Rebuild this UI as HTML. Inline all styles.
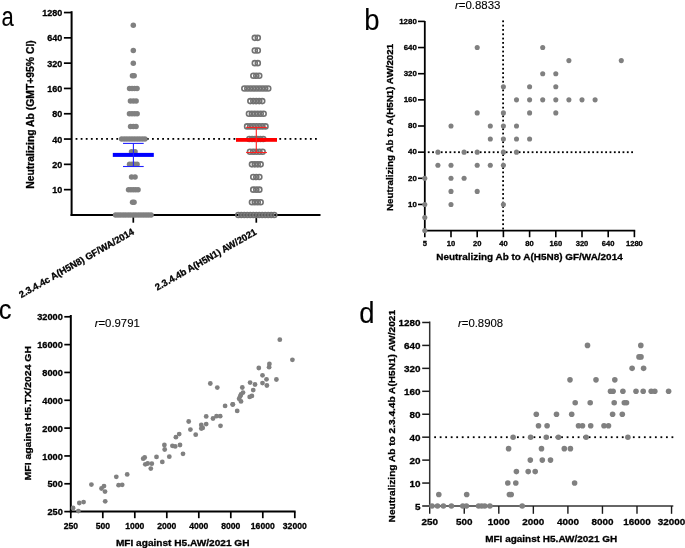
<!DOCTYPE html>
<html><head><meta charset="utf-8"><style>
html,body{margin:0;padding:0;background:#fff;}
svg{display:block;will-change:transform;}
text{font-family:"Liberation Sans", sans-serif;stroke:#000;stroke-width:0.3px;}
</style></head><body>
<svg width="685" height="548" viewBox="0 0 685 548" style="white-space:pre">
<text x="0.00" y="0.00" font-size="27.5" text-anchor="start" font-weight="normal" style="stroke-width:0.12px" transform="translate(1.6,26.0) scale(0.8,1)">a</text>
<line x1="71.60" y1="11.20" x2="71.60" y2="215.95" stroke="#000" stroke-width="2"/>
<line x1="70.60" y1="214.95" x2="320.50" y2="214.95" stroke="#000" stroke-width="2"/>
<line x1="63.90" y1="189.65" x2="71.60" y2="189.65" stroke="#000" stroke-width="1.7"/>
<text x="62.20" y="193.15" font-size="9.0" text-anchor="end" font-weight="bold">10</text>
<line x1="63.90" y1="164.35" x2="71.60" y2="164.35" stroke="#000" stroke-width="1.7"/>
<text x="62.20" y="167.85" font-size="9.0" text-anchor="end" font-weight="bold">20</text>
<line x1="63.90" y1="139.05" x2="71.60" y2="139.05" stroke="#000" stroke-width="1.7"/>
<text x="62.20" y="142.55" font-size="9.0" text-anchor="end" font-weight="bold">40</text>
<line x1="63.90" y1="113.75" x2="71.60" y2="113.75" stroke="#000" stroke-width="1.7"/>
<text x="62.20" y="117.25" font-size="9.0" text-anchor="end" font-weight="bold">80</text>
<line x1="63.90" y1="88.45" x2="71.60" y2="88.45" stroke="#000" stroke-width="1.7"/>
<text x="62.20" y="91.95" font-size="9.0" text-anchor="end" font-weight="bold">160</text>
<line x1="63.90" y1="63.15" x2="71.60" y2="63.15" stroke="#000" stroke-width="1.7"/>
<text x="62.20" y="66.65" font-size="9.0" text-anchor="end" font-weight="bold">320</text>
<line x1="63.90" y1="37.85" x2="71.60" y2="37.85" stroke="#000" stroke-width="1.7"/>
<text x="62.20" y="41.35" font-size="9.0" text-anchor="end" font-weight="bold">640</text>
<line x1="63.90" y1="12.55" x2="71.60" y2="12.55" stroke="#000" stroke-width="1.7"/>
<text x="62.20" y="16.05" font-size="9.0" text-anchor="end" font-weight="bold">1280</text>
<line x1="133.30" y1="214.95" x2="133.30" y2="222.70" stroke="#000" stroke-width="1.7"/>
<line x1="256.30" y1="214.95" x2="256.30" y2="222.70" stroke="#000" stroke-width="1.7"/>
<rect x="75.60" y="138.00" width="1.8" height="1.8" fill="#000"/>
<rect x="80.69" y="138.00" width="1.8" height="1.8" fill="#000"/>
<rect x="85.79" y="138.00" width="1.8" height="1.8" fill="#000"/>
<rect x="90.88" y="138.00" width="1.8" height="1.8" fill="#000"/>
<rect x="95.97" y="138.00" width="1.8" height="1.8" fill="#000"/>
<rect x="101.07" y="138.00" width="1.8" height="1.8" fill="#000"/>
<rect x="106.16" y="138.00" width="1.8" height="1.8" fill="#000"/>
<rect x="111.26" y="138.00" width="1.8" height="1.8" fill="#000"/>
<rect x="116.35" y="138.00" width="1.8" height="1.8" fill="#000"/>
<rect x="121.44" y="138.00" width="1.8" height="1.8" fill="#000"/>
<rect x="126.54" y="138.00" width="1.8" height="1.8" fill="#000"/>
<rect x="131.63" y="138.00" width="1.8" height="1.8" fill="#000"/>
<rect x="136.72" y="138.00" width="1.8" height="1.8" fill="#000"/>
<rect x="141.82" y="138.00" width="1.8" height="1.8" fill="#000"/>
<rect x="146.91" y="138.00" width="1.8" height="1.8" fill="#000"/>
<rect x="152.00" y="138.00" width="1.8" height="1.8" fill="#000"/>
<rect x="157.10" y="138.00" width="1.8" height="1.8" fill="#000"/>
<rect x="162.19" y="138.00" width="1.8" height="1.8" fill="#000"/>
<rect x="167.29" y="138.00" width="1.8" height="1.8" fill="#000"/>
<rect x="172.38" y="138.00" width="1.8" height="1.8" fill="#000"/>
<rect x="177.47" y="138.00" width="1.8" height="1.8" fill="#000"/>
<rect x="182.57" y="138.00" width="1.8" height="1.8" fill="#000"/>
<rect x="187.66" y="138.00" width="1.8" height="1.8" fill="#000"/>
<rect x="192.75" y="138.00" width="1.8" height="1.8" fill="#000"/>
<rect x="197.85" y="138.00" width="1.8" height="1.8" fill="#000"/>
<rect x="202.94" y="138.00" width="1.8" height="1.8" fill="#000"/>
<rect x="208.03" y="138.00" width="1.8" height="1.8" fill="#000"/>
<rect x="213.13" y="138.00" width="1.8" height="1.8" fill="#000"/>
<rect x="218.22" y="138.00" width="1.8" height="1.8" fill="#000"/>
<rect x="223.31" y="138.00" width="1.8" height="1.8" fill="#000"/>
<rect x="228.41" y="138.00" width="1.8" height="1.8" fill="#000"/>
<rect x="233.50" y="138.00" width="1.8" height="1.8" fill="#000"/>
<rect x="238.60" y="138.00" width="1.8" height="1.8" fill="#000"/>
<rect x="243.69" y="138.00" width="1.8" height="1.8" fill="#000"/>
<rect x="248.78" y="138.00" width="1.8" height="1.8" fill="#000"/>
<rect x="253.88" y="138.00" width="1.8" height="1.8" fill="#000"/>
<rect x="258.97" y="138.00" width="1.8" height="1.8" fill="#000"/>
<rect x="264.06" y="138.00" width="1.8" height="1.8" fill="#000"/>
<rect x="269.16" y="138.00" width="1.8" height="1.8" fill="#000"/>
<rect x="274.25" y="138.00" width="1.8" height="1.8" fill="#000"/>
<rect x="279.34" y="138.00" width="1.8" height="1.8" fill="#000"/>
<rect x="284.44" y="138.00" width="1.8" height="1.8" fill="#000"/>
<rect x="289.53" y="138.00" width="1.8" height="1.8" fill="#000"/>
<rect x="294.63" y="138.00" width="1.8" height="1.8" fill="#000"/>
<rect x="299.72" y="138.00" width="1.8" height="1.8" fill="#000"/>
<rect x="304.81" y="138.00" width="1.8" height="1.8" fill="#000"/>
<rect x="309.91" y="138.00" width="1.8" height="1.8" fill="#000"/>
<rect x="315.00" y="138.00" width="1.8" height="1.8" fill="#000"/>
<circle cx="133.30" cy="25.20" r="2.75" fill="#808080"/>
<circle cx="133.30" cy="50.50" r="2.75" fill="#808080"/>
<circle cx="133.30" cy="63.15" r="2.75" fill="#808080"/>
<circle cx="132.45" cy="75.80" r="2.75" fill="#808080"/>
<circle cx="134.15" cy="75.80" r="2.75" fill="#808080"/>
<circle cx="129.55" cy="88.45" r="2.75" fill="#808080"/>
<circle cx="132.05" cy="88.45" r="2.75" fill="#808080"/>
<circle cx="134.55" cy="88.45" r="2.75" fill="#808080"/>
<circle cx="137.05" cy="88.45" r="2.75" fill="#808080"/>
<circle cx="130.45" cy="101.10" r="2.75" fill="#808080"/>
<circle cx="133.30" cy="101.10" r="2.75" fill="#808080"/>
<circle cx="136.15" cy="101.10" r="2.75" fill="#808080"/>
<circle cx="129.45" cy="113.75" r="2.75" fill="#808080"/>
<circle cx="132.02" cy="113.75" r="2.75" fill="#808080"/>
<circle cx="134.58" cy="113.75" r="2.75" fill="#808080"/>
<circle cx="137.15" cy="113.75" r="2.75" fill="#808080"/>
<circle cx="130.55" cy="126.40" r="2.75" fill="#808080"/>
<circle cx="133.30" cy="126.40" r="2.75" fill="#808080"/>
<circle cx="136.05" cy="126.40" r="2.75" fill="#808080"/>
<circle cx="121.70" cy="139.05" r="2.75" fill="#808080"/>
<circle cx="124.28" cy="139.05" r="2.75" fill="#808080"/>
<circle cx="126.86" cy="139.05" r="2.75" fill="#808080"/>
<circle cx="129.43" cy="139.05" r="2.75" fill="#808080"/>
<circle cx="132.01" cy="139.05" r="2.75" fill="#808080"/>
<circle cx="134.59" cy="139.05" r="2.75" fill="#808080"/>
<circle cx="137.17" cy="139.05" r="2.75" fill="#808080"/>
<circle cx="139.74" cy="139.05" r="2.75" fill="#808080"/>
<circle cx="142.32" cy="139.05" r="2.75" fill="#808080"/>
<circle cx="144.90" cy="139.05" r="2.75" fill="#808080"/>
<circle cx="131.55" cy="151.70" r="2.75" fill="#808080"/>
<circle cx="135.05" cy="151.70" r="2.75" fill="#808080"/>
<circle cx="129.55" cy="164.35" r="2.75" fill="#808080"/>
<circle cx="132.05" cy="164.35" r="2.75" fill="#808080"/>
<circle cx="134.55" cy="164.35" r="2.75" fill="#808080"/>
<circle cx="137.05" cy="164.35" r="2.75" fill="#808080"/>
<circle cx="131.55" cy="177.00" r="2.75" fill="#808080"/>
<circle cx="135.05" cy="177.00" r="2.75" fill="#808080"/>
<circle cx="128.55" cy="189.65" r="2.75" fill="#808080"/>
<circle cx="130.93" cy="189.65" r="2.75" fill="#808080"/>
<circle cx="133.30" cy="189.65" r="2.75" fill="#808080"/>
<circle cx="135.68" cy="189.65" r="2.75" fill="#808080"/>
<circle cx="138.05" cy="189.65" r="2.75" fill="#808080"/>
<circle cx="132.55" cy="202.30" r="2.75" fill="#808080"/>
<circle cx="134.05" cy="202.30" r="2.75" fill="#808080"/>
<circle cx="115.55" cy="214.95" r="2.75" fill="#808080"/>
<circle cx="118.09" cy="214.95" r="2.75" fill="#808080"/>
<circle cx="120.62" cy="214.95" r="2.75" fill="#808080"/>
<circle cx="123.16" cy="214.95" r="2.75" fill="#808080"/>
<circle cx="125.69" cy="214.95" r="2.75" fill="#808080"/>
<circle cx="128.23" cy="214.95" r="2.75" fill="#808080"/>
<circle cx="130.76" cy="214.95" r="2.75" fill="#808080"/>
<circle cx="133.30" cy="214.95" r="2.75" fill="#808080"/>
<circle cx="135.84" cy="214.95" r="2.75" fill="#808080"/>
<circle cx="138.37" cy="214.95" r="2.75" fill="#808080"/>
<circle cx="140.91" cy="214.95" r="2.75" fill="#808080"/>
<circle cx="143.44" cy="214.95" r="2.75" fill="#808080"/>
<circle cx="145.98" cy="214.95" r="2.75" fill="#808080"/>
<circle cx="148.51" cy="214.95" r="2.75" fill="#808080"/>
<circle cx="151.05" cy="214.95" r="2.75" fill="#808080"/>
<circle cx="254.80" cy="37.85" r="2.50" fill="none" stroke="#727272" stroke-width="1.6"/>
<circle cx="257.80" cy="37.85" r="2.50" fill="none" stroke="#727272" stroke-width="1.6"/>
<circle cx="254.80" cy="50.50" r="2.50" fill="none" stroke="#727272" stroke-width="1.6"/>
<circle cx="257.80" cy="50.50" r="2.50" fill="none" stroke="#727272" stroke-width="1.6"/>
<circle cx="254.80" cy="63.15" r="2.50" fill="none" stroke="#727272" stroke-width="1.6"/>
<circle cx="257.80" cy="63.15" r="2.50" fill="none" stroke="#727272" stroke-width="1.6"/>
<circle cx="253.35" cy="75.80" r="2.50" fill="none" stroke="#727272" stroke-width="1.6"/>
<circle cx="256.30" cy="75.80" r="2.50" fill="none" stroke="#727272" stroke-width="1.6"/>
<circle cx="259.25" cy="75.80" r="2.50" fill="none" stroke="#727272" stroke-width="1.6"/>
<circle cx="244.35" cy="88.45" r="2.50" fill="none" stroke="#727272" stroke-width="1.6"/>
<circle cx="247.34" cy="88.45" r="2.50" fill="none" stroke="#727272" stroke-width="1.6"/>
<circle cx="250.33" cy="88.45" r="2.50" fill="none" stroke="#727272" stroke-width="1.6"/>
<circle cx="253.31" cy="88.45" r="2.50" fill="none" stroke="#727272" stroke-width="1.6"/>
<circle cx="256.30" cy="88.45" r="2.50" fill="none" stroke="#727272" stroke-width="1.6"/>
<circle cx="259.29" cy="88.45" r="2.50" fill="none" stroke="#727272" stroke-width="1.6"/>
<circle cx="262.28" cy="88.45" r="2.50" fill="none" stroke="#727272" stroke-width="1.6"/>
<circle cx="265.26" cy="88.45" r="2.50" fill="none" stroke="#727272" stroke-width="1.6"/>
<circle cx="268.25" cy="88.45" r="2.50" fill="none" stroke="#727272" stroke-width="1.6"/>
<circle cx="250.35" cy="101.10" r="2.50" fill="none" stroke="#727272" stroke-width="1.6"/>
<circle cx="253.33" cy="101.10" r="2.50" fill="none" stroke="#727272" stroke-width="1.6"/>
<circle cx="256.30" cy="101.10" r="2.50" fill="none" stroke="#727272" stroke-width="1.6"/>
<circle cx="259.28" cy="101.10" r="2.50" fill="none" stroke="#727272" stroke-width="1.6"/>
<circle cx="262.25" cy="101.10" r="2.50" fill="none" stroke="#727272" stroke-width="1.6"/>
<circle cx="248.95" cy="113.75" r="2.50" fill="none" stroke="#727272" stroke-width="1.6"/>
<circle cx="251.89" cy="113.75" r="2.50" fill="none" stroke="#727272" stroke-width="1.6"/>
<circle cx="254.83" cy="113.75" r="2.50" fill="none" stroke="#727272" stroke-width="1.6"/>
<circle cx="257.77" cy="113.75" r="2.50" fill="none" stroke="#727272" stroke-width="1.6"/>
<circle cx="260.71" cy="113.75" r="2.50" fill="none" stroke="#727272" stroke-width="1.6"/>
<circle cx="263.65" cy="113.75" r="2.50" fill="none" stroke="#727272" stroke-width="1.6"/>
<circle cx="247.10" cy="126.40" r="2.50" fill="none" stroke="#727272" stroke-width="1.6"/>
<circle cx="250.17" cy="126.40" r="2.50" fill="none" stroke="#727272" stroke-width="1.6"/>
<circle cx="253.23" cy="126.40" r="2.50" fill="none" stroke="#727272" stroke-width="1.6"/>
<circle cx="256.30" cy="126.40" r="2.50" fill="none" stroke="#727272" stroke-width="1.6"/>
<circle cx="259.37" cy="126.40" r="2.50" fill="none" stroke="#727272" stroke-width="1.6"/>
<circle cx="262.43" cy="126.40" r="2.50" fill="none" stroke="#727272" stroke-width="1.6"/>
<circle cx="265.50" cy="126.40" r="2.50" fill="none" stroke="#727272" stroke-width="1.6"/>
<circle cx="249.35" cy="139.05" r="2.50" fill="none" stroke="#727272" stroke-width="1.6"/>
<circle cx="252.13" cy="139.05" r="2.50" fill="none" stroke="#727272" stroke-width="1.6"/>
<circle cx="254.91" cy="139.05" r="2.50" fill="none" stroke="#727272" stroke-width="1.6"/>
<circle cx="257.69" cy="139.05" r="2.50" fill="none" stroke="#727272" stroke-width="1.6"/>
<circle cx="260.47" cy="139.05" r="2.50" fill="none" stroke="#727272" stroke-width="1.6"/>
<circle cx="263.25" cy="139.05" r="2.50" fill="none" stroke="#727272" stroke-width="1.6"/>
<circle cx="250.00" cy="151.70" r="2.50" fill="none" stroke="#727272" stroke-width="1.6"/>
<circle cx="253.15" cy="151.70" r="2.50" fill="none" stroke="#727272" stroke-width="1.6"/>
<circle cx="256.30" cy="151.70" r="2.50" fill="none" stroke="#727272" stroke-width="1.6"/>
<circle cx="259.45" cy="151.70" r="2.50" fill="none" stroke="#727272" stroke-width="1.6"/>
<circle cx="262.60" cy="151.70" r="2.50" fill="none" stroke="#727272" stroke-width="1.6"/>
<circle cx="251.95" cy="164.35" r="2.50" fill="none" stroke="#727272" stroke-width="1.6"/>
<circle cx="254.85" cy="164.35" r="2.50" fill="none" stroke="#727272" stroke-width="1.6"/>
<circle cx="257.75" cy="164.35" r="2.50" fill="none" stroke="#727272" stroke-width="1.6"/>
<circle cx="260.65" cy="164.35" r="2.50" fill="none" stroke="#727272" stroke-width="1.6"/>
<circle cx="253.25" cy="177.00" r="2.50" fill="none" stroke="#727272" stroke-width="1.6"/>
<circle cx="256.30" cy="177.00" r="2.50" fill="none" stroke="#727272" stroke-width="1.6"/>
<circle cx="259.35" cy="177.00" r="2.50" fill="none" stroke="#727272" stroke-width="1.6"/>
<circle cx="253.25" cy="189.65" r="2.50" fill="none" stroke="#727272" stroke-width="1.6"/>
<circle cx="256.30" cy="189.65" r="2.50" fill="none" stroke="#727272" stroke-width="1.6"/>
<circle cx="259.35" cy="189.65" r="2.50" fill="none" stroke="#727272" stroke-width="1.6"/>
<circle cx="251.95" cy="202.30" r="2.50" fill="none" stroke="#727272" stroke-width="1.6"/>
<circle cx="254.85" cy="202.30" r="2.50" fill="none" stroke="#727272" stroke-width="1.6"/>
<circle cx="257.75" cy="202.30" r="2.50" fill="none" stroke="#727272" stroke-width="1.6"/>
<circle cx="260.65" cy="202.30" r="2.50" fill="none" stroke="#727272" stroke-width="1.6"/>
<circle cx="238.35" cy="214.95" r="2.50" fill="none" stroke="#727272" stroke-width="1.6"/>
<circle cx="241.34" cy="214.95" r="2.50" fill="none" stroke="#727272" stroke-width="1.6"/>
<circle cx="244.33" cy="214.95" r="2.50" fill="none" stroke="#727272" stroke-width="1.6"/>
<circle cx="247.33" cy="214.95" r="2.50" fill="none" stroke="#727272" stroke-width="1.6"/>
<circle cx="250.32" cy="214.95" r="2.50" fill="none" stroke="#727272" stroke-width="1.6"/>
<circle cx="253.31" cy="214.95" r="2.50" fill="none" stroke="#727272" stroke-width="1.6"/>
<circle cx="256.30" cy="214.95" r="2.50" fill="none" stroke="#727272" stroke-width="1.6"/>
<circle cx="259.29" cy="214.95" r="2.50" fill="none" stroke="#727272" stroke-width="1.6"/>
<circle cx="262.28" cy="214.95" r="2.50" fill="none" stroke="#727272" stroke-width="1.6"/>
<circle cx="265.28" cy="214.95" r="2.50" fill="none" stroke="#727272" stroke-width="1.6"/>
<circle cx="268.27" cy="214.95" r="2.50" fill="none" stroke="#727272" stroke-width="1.6"/>
<circle cx="271.26" cy="214.95" r="2.50" fill="none" stroke="#727272" stroke-width="1.6"/>
<circle cx="274.25" cy="214.95" r="2.50" fill="none" stroke="#727272" stroke-width="1.6"/>
<rect x="112.8" y="152.9" width="41" height="4" fill="#0000ff"/>
<line x1="133.40" y1="143.40" x2="133.40" y2="166.50" stroke="#2020ff" stroke-width="1.1"/>
<line x1="123.00" y1="143.40" x2="143.70" y2="143.40" stroke="#2020ff" stroke-width="1.1"/>
<line x1="123.00" y1="166.50" x2="143.70" y2="166.50" stroke="#2020ff" stroke-width="1.1"/>
<rect x="236" y="138" width="41" height="3.8" fill="#ff0000"/>
<line x1="256.30" y1="127.40" x2="256.30" y2="152.50" stroke="#ff2020" stroke-width="1.1"/>
<line x1="246.10" y1="127.40" x2="266.90" y2="127.40" stroke="#ff2020" stroke-width="1.1"/>
<line x1="246.10" y1="152.50" x2="266.90" y2="152.50" stroke="#ff2020" stroke-width="1.1"/>
<text x="0.00" y="0.00" font-size="10" text-anchor="middle" font-weight="bold" textLength="148.5" lengthAdjust="spacingAndGlyphs" transform="translate(34.2,114.5) rotate(-90)">Neutralizing Ab (GMT+95% CI)</text>
<text x="0.00" y="0.00" font-size="9.45" text-anchor="end" font-weight="bold" transform="translate(134.9,233.6) rotate(-29.6)">2.3.4.4c A(H5N8) GF/WA/2014</text>
<text x="0.00" y="0.00" font-size="9.45" text-anchor="end" font-weight="bold" transform="translate(257.4,233.9) rotate(-29.6)">2.3.4.4b A(H5N1) AW/2021</text>
<text x="0.00" y="0.00" font-size="27.5" text-anchor="start" font-weight="normal" style="stroke-width:0.12px" transform="translate(364.2,29.9) scale(1,1.04)">b</text>
<text x="454.90" y="8.80" font-size="11.45" text-anchor="start" font-weight="normal" style="stroke-width:0.12px"><tspan font-style="italic">r</tspan>=0.8833</text>
<line x1="424.80" y1="21.00" x2="424.80" y2="231.40" stroke="#000" stroke-width="1.8"/>
<line x1="424.00" y1="230.60" x2="635.20" y2="230.60" stroke="#000" stroke-width="1.8"/>
<line x1="418.00" y1="204.45" x2="424.80" y2="204.45" stroke="#000" stroke-width="1.6"/>
<text x="416.80" y="206.65" font-size="7.9" text-anchor="end" font-weight="bold">10</text>
<line x1="418.00" y1="178.30" x2="424.80" y2="178.30" stroke="#000" stroke-width="1.6"/>
<text x="416.80" y="180.50" font-size="7.9" text-anchor="end" font-weight="bold">20</text>
<line x1="418.00" y1="152.15" x2="424.80" y2="152.15" stroke="#000" stroke-width="1.6"/>
<text x="416.80" y="154.35" font-size="7.9" text-anchor="end" font-weight="bold">40</text>
<line x1="418.00" y1="126.00" x2="424.80" y2="126.00" stroke="#000" stroke-width="1.6"/>
<text x="416.80" y="128.20" font-size="7.9" text-anchor="end" font-weight="bold">80</text>
<line x1="418.00" y1="99.85" x2="424.80" y2="99.85" stroke="#000" stroke-width="1.6"/>
<text x="416.80" y="102.05" font-size="7.9" text-anchor="end" font-weight="bold">160</text>
<line x1="418.00" y1="73.70" x2="424.80" y2="73.70" stroke="#000" stroke-width="1.6"/>
<text x="416.80" y="75.90" font-size="7.9" text-anchor="end" font-weight="bold">320</text>
<line x1="418.00" y1="47.55" x2="424.80" y2="47.55" stroke="#000" stroke-width="1.6"/>
<text x="416.80" y="49.75" font-size="7.9" text-anchor="end" font-weight="bold">640</text>
<line x1="418.00" y1="21.40" x2="424.80" y2="21.40" stroke="#000" stroke-width="1.6"/>
<text x="416.80" y="23.60" font-size="7.9" text-anchor="end" font-weight="bold">1280</text>
<line x1="424.80" y1="230.60" x2="424.80" y2="237.20" stroke="#000" stroke-width="1.6"/>
<text x="424.80" y="246.30" font-size="7.6" text-anchor="middle" font-weight="bold">5</text>
<line x1="451.00" y1="230.60" x2="451.00" y2="237.20" stroke="#000" stroke-width="1.6"/>
<text x="451.00" y="246.30" font-size="7.6" text-anchor="middle" font-weight="bold">10</text>
<line x1="477.20" y1="230.60" x2="477.20" y2="237.20" stroke="#000" stroke-width="1.6"/>
<text x="477.20" y="246.30" font-size="7.6" text-anchor="middle" font-weight="bold">20</text>
<line x1="503.40" y1="230.60" x2="503.40" y2="237.20" stroke="#000" stroke-width="1.6"/>
<text x="503.40" y="246.30" font-size="7.6" text-anchor="middle" font-weight="bold">40</text>
<line x1="529.60" y1="230.60" x2="529.60" y2="237.20" stroke="#000" stroke-width="1.6"/>
<text x="529.60" y="246.30" font-size="7.6" text-anchor="middle" font-weight="bold">80</text>
<line x1="555.80" y1="230.60" x2="555.80" y2="237.20" stroke="#000" stroke-width="1.6"/>
<text x="555.80" y="246.30" font-size="7.6" text-anchor="middle" font-weight="bold">160</text>
<line x1="582.00" y1="230.60" x2="582.00" y2="237.20" stroke="#000" stroke-width="1.6"/>
<text x="582.00" y="246.30" font-size="7.6" text-anchor="middle" font-weight="bold">320</text>
<line x1="608.20" y1="230.60" x2="608.20" y2="237.20" stroke="#000" stroke-width="1.6"/>
<text x="608.20" y="246.30" font-size="7.6" text-anchor="middle" font-weight="bold">640</text>
<line x1="634.40" y1="230.60" x2="634.40" y2="237.20" stroke="#000" stroke-width="1.6"/>
<text x="634.40" y="246.30" font-size="7.6" text-anchor="middle" font-weight="bold">1280</text>
<rect x="427.80" y="151.30" width="1.8" height="1.8" fill="#000"/>
<rect x="432.13" y="151.30" width="1.8" height="1.8" fill="#000"/>
<rect x="436.46" y="151.30" width="1.8" height="1.8" fill="#000"/>
<rect x="440.78" y="151.30" width="1.8" height="1.8" fill="#000"/>
<rect x="445.11" y="151.30" width="1.8" height="1.8" fill="#000"/>
<rect x="449.44" y="151.30" width="1.8" height="1.8" fill="#000"/>
<rect x="453.77" y="151.30" width="1.8" height="1.8" fill="#000"/>
<rect x="458.09" y="151.30" width="1.8" height="1.8" fill="#000"/>
<rect x="462.42" y="151.30" width="1.8" height="1.8" fill="#000"/>
<rect x="466.75" y="151.30" width="1.8" height="1.8" fill="#000"/>
<rect x="471.08" y="151.30" width="1.8" height="1.8" fill="#000"/>
<rect x="475.40" y="151.30" width="1.8" height="1.8" fill="#000"/>
<rect x="479.73" y="151.30" width="1.8" height="1.8" fill="#000"/>
<rect x="484.06" y="151.30" width="1.8" height="1.8" fill="#000"/>
<rect x="488.39" y="151.30" width="1.8" height="1.8" fill="#000"/>
<rect x="492.71" y="151.30" width="1.8" height="1.8" fill="#000"/>
<rect x="497.04" y="151.30" width="1.8" height="1.8" fill="#000"/>
<rect x="501.37" y="151.30" width="1.8" height="1.8" fill="#000"/>
<rect x="505.70" y="151.30" width="1.8" height="1.8" fill="#000"/>
<rect x="510.03" y="151.30" width="1.8" height="1.8" fill="#000"/>
<rect x="514.35" y="151.30" width="1.8" height="1.8" fill="#000"/>
<rect x="518.68" y="151.30" width="1.8" height="1.8" fill="#000"/>
<rect x="523.01" y="151.30" width="1.8" height="1.8" fill="#000"/>
<rect x="527.34" y="151.30" width="1.8" height="1.8" fill="#000"/>
<rect x="531.66" y="151.30" width="1.8" height="1.8" fill="#000"/>
<rect x="535.99" y="151.30" width="1.8" height="1.8" fill="#000"/>
<rect x="540.32" y="151.30" width="1.8" height="1.8" fill="#000"/>
<rect x="544.65" y="151.30" width="1.8" height="1.8" fill="#000"/>
<rect x="548.97" y="151.30" width="1.8" height="1.8" fill="#000"/>
<rect x="553.30" y="151.30" width="1.8" height="1.8" fill="#000"/>
<rect x="557.63" y="151.30" width="1.8" height="1.8" fill="#000"/>
<rect x="561.96" y="151.30" width="1.8" height="1.8" fill="#000"/>
<rect x="566.29" y="151.30" width="1.8" height="1.8" fill="#000"/>
<rect x="570.61" y="151.30" width="1.8" height="1.8" fill="#000"/>
<rect x="574.94" y="151.30" width="1.8" height="1.8" fill="#000"/>
<rect x="579.27" y="151.30" width="1.8" height="1.8" fill="#000"/>
<rect x="583.60" y="151.30" width="1.8" height="1.8" fill="#000"/>
<rect x="587.92" y="151.30" width="1.8" height="1.8" fill="#000"/>
<rect x="592.25" y="151.30" width="1.8" height="1.8" fill="#000"/>
<rect x="596.58" y="151.30" width="1.8" height="1.8" fill="#000"/>
<rect x="600.91" y="151.30" width="1.8" height="1.8" fill="#000"/>
<rect x="605.23" y="151.30" width="1.8" height="1.8" fill="#000"/>
<rect x="609.56" y="151.30" width="1.8" height="1.8" fill="#000"/>
<rect x="613.89" y="151.30" width="1.8" height="1.8" fill="#000"/>
<rect x="618.22" y="151.30" width="1.8" height="1.8" fill="#000"/>
<rect x="622.54" y="151.30" width="1.8" height="1.8" fill="#000"/>
<rect x="626.87" y="151.30" width="1.8" height="1.8" fill="#000"/>
<rect x="631.20" y="151.30" width="1.8" height="1.8" fill="#000"/>
<rect x="502.20" y="20.40" width="1.8" height="1.8" fill="#000"/>
<rect x="502.20" y="24.72" width="1.8" height="1.8" fill="#000"/>
<rect x="502.20" y="29.03" width="1.8" height="1.8" fill="#000"/>
<rect x="502.20" y="33.35" width="1.8" height="1.8" fill="#000"/>
<rect x="502.20" y="37.67" width="1.8" height="1.8" fill="#000"/>
<rect x="502.20" y="41.98" width="1.8" height="1.8" fill="#000"/>
<rect x="502.20" y="46.30" width="1.8" height="1.8" fill="#000"/>
<rect x="502.20" y="50.62" width="1.8" height="1.8" fill="#000"/>
<rect x="502.20" y="54.93" width="1.8" height="1.8" fill="#000"/>
<rect x="502.20" y="59.25" width="1.8" height="1.8" fill="#000"/>
<rect x="502.20" y="63.57" width="1.8" height="1.8" fill="#000"/>
<rect x="502.20" y="67.88" width="1.8" height="1.8" fill="#000"/>
<rect x="502.20" y="72.20" width="1.8" height="1.8" fill="#000"/>
<rect x="502.20" y="76.52" width="1.8" height="1.8" fill="#000"/>
<rect x="502.20" y="80.83" width="1.8" height="1.8" fill="#000"/>
<rect x="502.20" y="85.15" width="1.8" height="1.8" fill="#000"/>
<rect x="502.20" y="89.47" width="1.8" height="1.8" fill="#000"/>
<rect x="502.20" y="93.78" width="1.8" height="1.8" fill="#000"/>
<rect x="502.20" y="98.10" width="1.8" height="1.8" fill="#000"/>
<rect x="502.20" y="102.42" width="1.8" height="1.8" fill="#000"/>
<rect x="502.20" y="106.73" width="1.8" height="1.8" fill="#000"/>
<rect x="502.20" y="111.05" width="1.8" height="1.8" fill="#000"/>
<rect x="502.20" y="115.37" width="1.8" height="1.8" fill="#000"/>
<rect x="502.20" y="119.68" width="1.8" height="1.8" fill="#000"/>
<rect x="502.20" y="124.00" width="1.8" height="1.8" fill="#000"/>
<rect x="502.20" y="128.32" width="1.8" height="1.8" fill="#000"/>
<rect x="502.20" y="132.63" width="1.8" height="1.8" fill="#000"/>
<rect x="502.20" y="136.95" width="1.8" height="1.8" fill="#000"/>
<rect x="502.20" y="141.27" width="1.8" height="1.8" fill="#000"/>
<rect x="502.20" y="145.58" width="1.8" height="1.8" fill="#000"/>
<rect x="502.20" y="149.90" width="1.8" height="1.8" fill="#000"/>
<rect x="502.20" y="154.22" width="1.8" height="1.8" fill="#000"/>
<rect x="502.20" y="158.53" width="1.8" height="1.8" fill="#000"/>
<rect x="502.20" y="162.85" width="1.8" height="1.8" fill="#000"/>
<rect x="502.20" y="167.17" width="1.8" height="1.8" fill="#000"/>
<rect x="502.20" y="171.48" width="1.8" height="1.8" fill="#000"/>
<rect x="502.20" y="175.80" width="1.8" height="1.8" fill="#000"/>
<rect x="502.20" y="180.12" width="1.8" height="1.8" fill="#000"/>
<rect x="502.20" y="184.43" width="1.8" height="1.8" fill="#000"/>
<rect x="502.20" y="188.75" width="1.8" height="1.8" fill="#000"/>
<rect x="502.20" y="193.07" width="1.8" height="1.8" fill="#000"/>
<rect x="502.20" y="197.38" width="1.8" height="1.8" fill="#000"/>
<rect x="502.20" y="201.70" width="1.8" height="1.8" fill="#000"/>
<rect x="502.20" y="206.02" width="1.8" height="1.8" fill="#000"/>
<rect x="502.20" y="210.33" width="1.8" height="1.8" fill="#000"/>
<rect x="502.20" y="214.65" width="1.8" height="1.8" fill="#000"/>
<rect x="502.20" y="218.97" width="1.8" height="1.8" fill="#000"/>
<rect x="502.20" y="223.28" width="1.8" height="1.8" fill="#000"/>
<rect x="502.20" y="227.60" width="1.8" height="1.8" fill="#000"/>
<circle cx="477.20" cy="47.55" r="2.55" fill="#808080"/>
<circle cx="542.70" cy="47.55" r="2.55" fill="#808080"/>
<circle cx="568.90" cy="60.62" r="2.55" fill="#808080"/>
<circle cx="621.30" cy="60.62" r="2.55" fill="#808080"/>
<circle cx="542.70" cy="73.70" r="2.55" fill="#808080"/>
<circle cx="555.80" cy="73.70" r="2.55" fill="#808080"/>
<circle cx="503.40" cy="86.78" r="2.55" fill="#808080"/>
<circle cx="529.60" cy="86.78" r="2.55" fill="#808080"/>
<circle cx="555.80" cy="86.78" r="2.55" fill="#808080"/>
<circle cx="516.50" cy="99.85" r="2.55" fill="#808080"/>
<circle cx="529.60" cy="99.85" r="2.55" fill="#808080"/>
<circle cx="542.70" cy="99.85" r="2.55" fill="#808080"/>
<circle cx="555.80" cy="99.85" r="2.55" fill="#808080"/>
<circle cx="568.90" cy="99.85" r="2.55" fill="#808080"/>
<circle cx="582.00" cy="99.85" r="2.55" fill="#808080"/>
<circle cx="595.10" cy="99.85" r="2.55" fill="#808080"/>
<circle cx="477.20" cy="112.92" r="2.55" fill="#808080"/>
<circle cx="503.40" cy="112.92" r="2.55" fill="#808080"/>
<circle cx="529.60" cy="112.92" r="2.55" fill="#808080"/>
<circle cx="555.80" cy="112.92" r="2.55" fill="#808080"/>
<circle cx="451.00" cy="126.00" r="2.55" fill="#808080"/>
<circle cx="490.30" cy="126.00" r="2.55" fill="#808080"/>
<circle cx="503.40" cy="126.00" r="2.55" fill="#808080"/>
<circle cx="516.50" cy="126.00" r="2.55" fill="#808080"/>
<circle cx="490.30" cy="139.07" r="2.55" fill="#808080"/>
<circle cx="503.40" cy="139.07" r="2.55" fill="#808080"/>
<circle cx="516.50" cy="139.07" r="2.55" fill="#808080"/>
<circle cx="529.60" cy="139.07" r="2.55" fill="#808080"/>
<circle cx="437.90" cy="152.15" r="2.55" fill="#808080"/>
<circle cx="464.10" cy="152.15" r="2.55" fill="#808080"/>
<circle cx="477.20" cy="152.15" r="2.55" fill="#808080"/>
<circle cx="503.40" cy="152.15" r="2.55" fill="#808080"/>
<circle cx="516.50" cy="152.15" r="2.55" fill="#808080"/>
<circle cx="437.90" cy="165.22" r="2.55" fill="#808080"/>
<circle cx="451.00" cy="165.22" r="2.55" fill="#808080"/>
<circle cx="477.20" cy="165.22" r="2.55" fill="#808080"/>
<circle cx="490.30" cy="165.22" r="2.55" fill="#808080"/>
<circle cx="503.40" cy="165.22" r="2.55" fill="#808080"/>
<circle cx="424.80" cy="178.30" r="2.55" fill="#808080"/>
<circle cx="451.00" cy="178.30" r="2.55" fill="#808080"/>
<circle cx="464.10" cy="178.30" r="2.55" fill="#808080"/>
<circle cx="451.00" cy="191.38" r="2.55" fill="#808080"/>
<circle cx="477.20" cy="191.38" r="2.55" fill="#808080"/>
<circle cx="424.80" cy="204.45" r="2.55" fill="#808080"/>
<circle cx="451.00" cy="204.45" r="2.55" fill="#808080"/>
<circle cx="503.40" cy="204.45" r="2.55" fill="#808080"/>
<circle cx="424.80" cy="217.53" r="2.55" fill="#808080"/>
<circle cx="424.80" cy="230.60" r="2.55" fill="#808080"/>
<text x="0.00" y="0.00" font-size="9.6" text-anchor="middle" font-weight="bold" textLength="167.3" lengthAdjust="spacingAndGlyphs" transform="translate(393.0,127.45) rotate(-90)">Neutralizing Ab to A(H5N1) AW/2021</text>
<text x="529.50" y="260.30" font-size="9.8" text-anchor="middle" font-weight="bold" textLength="186.4" lengthAdjust="spacingAndGlyphs">Neutralizing Ab to A(H5N8) GF/WA/2014</text>
<text x="0.00" y="0.00" font-size="27.5" text-anchor="start" font-weight="normal" style="stroke-width:0.12px" transform="translate(-1.2,318.7) scale(0.93,1)">c</text>
<text x="94.70" y="326.90" font-size="11.35" text-anchor="start" font-weight="normal" style="stroke-width:0.12px"><tspan font-style="italic">r</tspan>=0.9791</text>
<line x1="70.80" y1="315.00" x2="70.80" y2="512.40" stroke="#000" stroke-width="2"/>
<line x1="69.80" y1="511.60" x2="295.60" y2="511.60" stroke="#000" stroke-width="2"/>
<line x1="64.30" y1="511.60" x2="70.80" y2="511.60" stroke="#000" stroke-width="1.7"/>
<text x="62.80" y="515.20" font-size="9.2" text-anchor="end" font-weight="bold">250</text>
<line x1="70.80" y1="511.60" x2="70.80" y2="518.20" stroke="#000" stroke-width="1.7"/>
<text x="70.80" y="529.00" font-size="8.6" text-anchor="middle" font-weight="bold">250</text>
<line x1="64.30" y1="483.77" x2="70.80" y2="483.77" stroke="#000" stroke-width="1.7"/>
<text x="62.80" y="487.37" font-size="9.2" text-anchor="end" font-weight="bold">500</text>
<line x1="102.80" y1="511.60" x2="102.80" y2="518.20" stroke="#000" stroke-width="1.7"/>
<text x="102.80" y="529.00" font-size="8.6" text-anchor="middle" font-weight="bold">500</text>
<line x1="64.30" y1="455.94" x2="70.80" y2="455.94" stroke="#000" stroke-width="1.7"/>
<text x="62.80" y="459.54" font-size="9.2" text-anchor="end" font-weight="bold">1000</text>
<line x1="134.80" y1="511.60" x2="134.80" y2="518.20" stroke="#000" stroke-width="1.7"/>
<text x="134.80" y="529.00" font-size="8.6" text-anchor="middle" font-weight="bold">1000</text>
<line x1="64.30" y1="428.11" x2="70.80" y2="428.11" stroke="#000" stroke-width="1.7"/>
<text x="62.80" y="431.71" font-size="9.2" text-anchor="end" font-weight="bold">2000</text>
<line x1="166.80" y1="511.60" x2="166.80" y2="518.20" stroke="#000" stroke-width="1.7"/>
<text x="166.80" y="529.00" font-size="8.6" text-anchor="middle" font-weight="bold">2000</text>
<line x1="64.30" y1="400.28" x2="70.80" y2="400.28" stroke="#000" stroke-width="1.7"/>
<text x="62.80" y="403.88" font-size="9.2" text-anchor="end" font-weight="bold">4000</text>
<line x1="198.80" y1="511.60" x2="198.80" y2="518.20" stroke="#000" stroke-width="1.7"/>
<text x="198.80" y="529.00" font-size="8.6" text-anchor="middle" font-weight="bold">4000</text>
<line x1="64.30" y1="372.45" x2="70.80" y2="372.45" stroke="#000" stroke-width="1.7"/>
<text x="62.80" y="376.05" font-size="9.2" text-anchor="end" font-weight="bold">8000</text>
<line x1="230.80" y1="511.60" x2="230.80" y2="518.20" stroke="#000" stroke-width="1.7"/>
<text x="230.80" y="529.00" font-size="8.6" text-anchor="middle" font-weight="bold">8000</text>
<line x1="64.30" y1="344.62" x2="70.80" y2="344.62" stroke="#000" stroke-width="1.7"/>
<text x="62.80" y="348.22" font-size="9.2" text-anchor="end" font-weight="bold">16000</text>
<line x1="262.80" y1="511.60" x2="262.80" y2="518.20" stroke="#000" stroke-width="1.7"/>
<text x="262.80" y="529.00" font-size="8.6" text-anchor="middle" font-weight="bold">16000</text>
<line x1="64.30" y1="316.79" x2="70.80" y2="316.79" stroke="#000" stroke-width="1.7"/>
<text x="62.80" y="320.39" font-size="9.2" text-anchor="end" font-weight="bold">32000</text>
<line x1="294.80" y1="511.60" x2="294.80" y2="518.20" stroke="#000" stroke-width="1.7"/>
<text x="294.80" y="529.00" font-size="8.6" text-anchor="middle" font-weight="bold">32000</text>
<circle cx="73.10" cy="508.00" r="2.40" fill="#808080"/>
<circle cx="78.40" cy="511.10" r="2.40" fill="#808080"/>
<circle cx="79.30" cy="503.00" r="2.40" fill="#808080"/>
<circle cx="83.60" cy="502.10" r="2.40" fill="#808080"/>
<circle cx="91.40" cy="484.60" r="2.40" fill="#808080"/>
<circle cx="101.50" cy="488.50" r="2.40" fill="#808080"/>
<circle cx="104.00" cy="486.10" r="2.40" fill="#808080"/>
<circle cx="105.00" cy="491.60" r="2.40" fill="#808080"/>
<circle cx="105.20" cy="501.30" r="2.40" fill="#808080"/>
<circle cx="116.30" cy="476.80" r="2.40" fill="#808080"/>
<circle cx="118.60" cy="485.20" r="2.40" fill="#808080"/>
<circle cx="122.20" cy="484.80" r="2.40" fill="#808080"/>
<circle cx="127.20" cy="474.40" r="2.40" fill="#808080"/>
<circle cx="143.20" cy="458.70" r="2.40" fill="#808080"/>
<circle cx="144.70" cy="457.50" r="2.40" fill="#808080"/>
<circle cx="145.30" cy="464.30" r="2.40" fill="#808080"/>
<circle cx="147.70" cy="463.50" r="2.40" fill="#808080"/>
<circle cx="151.80" cy="463.70" r="2.40" fill="#808080"/>
<circle cx="150.80" cy="468.60" r="2.40" fill="#808080"/>
<circle cx="156.50" cy="456.90" r="2.40" fill="#808080"/>
<circle cx="162.30" cy="461.90" r="2.40" fill="#808080"/>
<circle cx="169.30" cy="456.70" r="2.40" fill="#808080"/>
<circle cx="164.40" cy="445.00" r="2.40" fill="#808080"/>
<circle cx="164.70" cy="449.50" r="2.40" fill="#808080"/>
<circle cx="172.40" cy="445.80" r="2.40" fill="#808080"/>
<circle cx="175.20" cy="446.40" r="2.40" fill="#808080"/>
<circle cx="180.00" cy="445.00" r="2.40" fill="#808080"/>
<circle cx="175.90" cy="437.20" r="2.40" fill="#808080"/>
<circle cx="179.20" cy="434.10" r="2.40" fill="#808080"/>
<circle cx="183.00" cy="453.80" r="2.40" fill="#808080"/>
<circle cx="210.30" cy="383.50" r="2.40" fill="#808080"/>
<circle cx="217.30" cy="387.60" r="2.40" fill="#808080"/>
<circle cx="225.10" cy="405.90" r="2.40" fill="#808080"/>
<circle cx="232.70" cy="404.50" r="2.40" fill="#808080"/>
<circle cx="237.20" cy="410.90" r="2.40" fill="#808080"/>
<circle cx="206.20" cy="416.40" r="2.40" fill="#808080"/>
<circle cx="213.00" cy="418.50" r="2.40" fill="#808080"/>
<circle cx="216.50" cy="416.20" r="2.40" fill="#808080"/>
<circle cx="220.20" cy="416.20" r="2.40" fill="#808080"/>
<circle cx="220.50" cy="425.80" r="2.40" fill="#808080"/>
<circle cx="188.70" cy="421.50" r="2.40" fill="#808080"/>
<circle cx="190.40" cy="429.60" r="2.40" fill="#808080"/>
<circle cx="195.70" cy="434.70" r="2.40" fill="#808080"/>
<circle cx="201.30" cy="425.00" r="2.40" fill="#808080"/>
<circle cx="206.20" cy="424.10" r="2.40" fill="#808080"/>
<circle cx="201.30" cy="428.50" r="2.40" fill="#808080"/>
<circle cx="202.70" cy="427.90" r="2.40" fill="#808080"/>
<circle cx="279.80" cy="339.70" r="2.40" fill="#808080"/>
<circle cx="292.40" cy="359.80" r="2.40" fill="#808080"/>
<circle cx="258.80" cy="368.00" r="2.40" fill="#808080"/>
<circle cx="269.40" cy="364.00" r="2.40" fill="#808080"/>
<circle cx="269.10" cy="367.20" r="2.40" fill="#808080"/>
<circle cx="262.50" cy="375.30" r="2.40" fill="#808080"/>
<circle cx="266.50" cy="379.30" r="2.40" fill="#808080"/>
<circle cx="276.40" cy="379.50" r="2.40" fill="#808080"/>
<circle cx="262.50" cy="383.10" r="2.40" fill="#808080"/>
<circle cx="266.90" cy="385.50" r="2.40" fill="#808080"/>
<circle cx="250.10" cy="382.60" r="2.40" fill="#808080"/>
<circle cx="255.00" cy="384.50" r="2.40" fill="#808080"/>
<circle cx="253.20" cy="390.10" r="2.40" fill="#808080"/>
<circle cx="242.30" cy="387.50" r="2.40" fill="#808080"/>
<circle cx="243.00" cy="392.60" r="2.40" fill="#808080"/>
<circle cx="241.00" cy="394.50" r="2.40" fill="#808080"/>
<circle cx="240.20" cy="396.30" r="2.40" fill="#808080"/>
<circle cx="239.10" cy="398.80" r="2.40" fill="#808080"/>
<circle cx="241.00" cy="401.40" r="2.40" fill="#808080"/>
<circle cx="249.70" cy="396.90" r="2.40" fill="#808080"/>
<circle cx="251.90" cy="395.90" r="2.40" fill="#808080"/>
<circle cx="232.80" cy="404.30" r="2.40" fill="#808080"/>
<text x="0.00" y="0.00" font-size="9.6" text-anchor="middle" font-weight="bold" textLength="134.4" lengthAdjust="spacingAndGlyphs" transform="translate(31.4,413.2) rotate(-90)">MFI against H5.TX/2024 GH</text>
<text x="182.70" y="545.70" font-size="9.6" text-anchor="middle" font-weight="bold" textLength="133.6" lengthAdjust="spacingAndGlyphs">MFI against H5.AW/2021 GH</text>
<text x="0.00" y="0.00" font-size="27.5" text-anchor="start" font-weight="normal" style="stroke-width:0.12px" transform="translate(359.3,322.9) scale(1,1.04)">d</text>
<text x="458.00" y="327.40" font-size="11.35" text-anchor="start" font-weight="normal" style="stroke-width:0.12px"><tspan font-style="italic">r</tspan>=0.8908</text>
<line x1="429.70" y1="321.50" x2="429.70" y2="506.70" stroke="#333" stroke-width="1.5"/>
<line x1="429.00" y1="506.00" x2="673.30" y2="506.00" stroke="#333" stroke-width="1.5"/>
<line x1="422.20" y1="506.00" x2="429.70" y2="506.00" stroke="#1a1a1a" stroke-width="1.5"/>
<text x="420.50" y="509.50" font-size="9.9" text-anchor="end" font-weight="bold">5</text>
<line x1="422.20" y1="483.06" x2="429.70" y2="483.06" stroke="#1a1a1a" stroke-width="1.5"/>
<text x="420.50" y="486.56" font-size="9.9" text-anchor="end" font-weight="bold">10</text>
<line x1="422.20" y1="460.12" x2="429.70" y2="460.12" stroke="#1a1a1a" stroke-width="1.5"/>
<text x="420.50" y="463.62" font-size="9.9" text-anchor="end" font-weight="bold">20</text>
<line x1="422.20" y1="437.18" x2="429.70" y2="437.18" stroke="#1a1a1a" stroke-width="1.5"/>
<text x="420.50" y="440.68" font-size="9.9" text-anchor="end" font-weight="bold">40</text>
<line x1="422.20" y1="414.24" x2="429.70" y2="414.24" stroke="#1a1a1a" stroke-width="1.5"/>
<text x="420.50" y="417.74" font-size="9.9" text-anchor="end" font-weight="bold">80</text>
<line x1="422.20" y1="391.30" x2="429.70" y2="391.30" stroke="#1a1a1a" stroke-width="1.5"/>
<text x="420.50" y="394.80" font-size="9.9" text-anchor="end" font-weight="bold">160</text>
<line x1="422.20" y1="368.36" x2="429.70" y2="368.36" stroke="#1a1a1a" stroke-width="1.5"/>
<text x="420.50" y="371.86" font-size="9.9" text-anchor="end" font-weight="bold">320</text>
<line x1="422.20" y1="345.42" x2="429.70" y2="345.42" stroke="#1a1a1a" stroke-width="1.5"/>
<text x="420.50" y="348.92" font-size="9.9" text-anchor="end" font-weight="bold">640</text>
<line x1="422.20" y1="322.48" x2="429.70" y2="322.48" stroke="#1a1a1a" stroke-width="1.5"/>
<text x="420.50" y="325.98" font-size="9.9" text-anchor="end" font-weight="bold">1280</text>
<line x1="429.70" y1="506.00" x2="429.70" y2="513.80" stroke="#1a1a1a" stroke-width="1.4"/>
<text x="429.70" y="525.00" font-size="9.9" text-anchor="middle" font-weight="bold">250</text>
<line x1="464.25" y1="506.00" x2="464.25" y2="513.80" stroke="#1a1a1a" stroke-width="1.4"/>
<text x="464.25" y="525.00" font-size="9.9" text-anchor="middle" font-weight="bold">500</text>
<line x1="498.80" y1="506.00" x2="498.80" y2="513.80" stroke="#1a1a1a" stroke-width="1.4"/>
<text x="498.80" y="525.00" font-size="9.9" text-anchor="middle" font-weight="bold">1000</text>
<line x1="533.35" y1="506.00" x2="533.35" y2="513.80" stroke="#1a1a1a" stroke-width="1.4"/>
<text x="533.35" y="525.00" font-size="9.9" text-anchor="middle" font-weight="bold">2000</text>
<line x1="567.90" y1="506.00" x2="567.90" y2="513.80" stroke="#1a1a1a" stroke-width="1.4"/>
<text x="567.90" y="525.00" font-size="9.9" text-anchor="middle" font-weight="bold">4000</text>
<line x1="602.45" y1="506.00" x2="602.45" y2="513.80" stroke="#1a1a1a" stroke-width="1.4"/>
<text x="602.45" y="525.00" font-size="9.9" text-anchor="middle" font-weight="bold">8000</text>
<line x1="637.00" y1="506.00" x2="637.00" y2="513.80" stroke="#1a1a1a" stroke-width="1.4"/>
<text x="637.00" y="525.00" font-size="9.9" text-anchor="middle" font-weight="bold">16000</text>
<line x1="671.55" y1="506.00" x2="671.55" y2="513.80" stroke="#1a1a1a" stroke-width="1.4"/>
<text x="671.55" y="525.00" font-size="9.9" text-anchor="middle" font-weight="bold">32000</text>
<rect x="434.20" y="436.30" width="1.8" height="1.8" fill="#000"/>
<rect x="439.72" y="436.30" width="1.8" height="1.8" fill="#000"/>
<rect x="445.24" y="436.30" width="1.8" height="1.8" fill="#000"/>
<rect x="450.76" y="436.30" width="1.8" height="1.8" fill="#000"/>
<rect x="456.27" y="436.30" width="1.8" height="1.8" fill="#000"/>
<rect x="461.79" y="436.30" width="1.8" height="1.8" fill="#000"/>
<rect x="467.31" y="436.30" width="1.8" height="1.8" fill="#000"/>
<rect x="472.83" y="436.30" width="1.8" height="1.8" fill="#000"/>
<rect x="478.35" y="436.30" width="1.8" height="1.8" fill="#000"/>
<rect x="483.87" y="436.30" width="1.8" height="1.8" fill="#000"/>
<rect x="489.39" y="436.30" width="1.8" height="1.8" fill="#000"/>
<rect x="494.90" y="436.30" width="1.8" height="1.8" fill="#000"/>
<rect x="500.42" y="436.30" width="1.8" height="1.8" fill="#000"/>
<rect x="505.94" y="436.30" width="1.8" height="1.8" fill="#000"/>
<rect x="511.46" y="436.30" width="1.8" height="1.8" fill="#000"/>
<rect x="516.98" y="436.30" width="1.8" height="1.8" fill="#000"/>
<rect x="522.50" y="436.30" width="1.8" height="1.8" fill="#000"/>
<rect x="528.02" y="436.30" width="1.8" height="1.8" fill="#000"/>
<rect x="533.53" y="436.30" width="1.8" height="1.8" fill="#000"/>
<rect x="539.05" y="436.30" width="1.8" height="1.8" fill="#000"/>
<rect x="544.57" y="436.30" width="1.8" height="1.8" fill="#000"/>
<rect x="550.09" y="436.30" width="1.8" height="1.8" fill="#000"/>
<rect x="555.61" y="436.30" width="1.8" height="1.8" fill="#000"/>
<rect x="561.13" y="436.30" width="1.8" height="1.8" fill="#000"/>
<rect x="566.65" y="436.30" width="1.8" height="1.8" fill="#000"/>
<rect x="572.17" y="436.30" width="1.8" height="1.8" fill="#000"/>
<rect x="577.68" y="436.30" width="1.8" height="1.8" fill="#000"/>
<rect x="583.20" y="436.30" width="1.8" height="1.8" fill="#000"/>
<rect x="588.72" y="436.30" width="1.8" height="1.8" fill="#000"/>
<rect x="594.24" y="436.30" width="1.8" height="1.8" fill="#000"/>
<rect x="599.76" y="436.30" width="1.8" height="1.8" fill="#000"/>
<rect x="605.28" y="436.30" width="1.8" height="1.8" fill="#000"/>
<rect x="610.80" y="436.30" width="1.8" height="1.8" fill="#000"/>
<rect x="616.31" y="436.30" width="1.8" height="1.8" fill="#000"/>
<rect x="621.83" y="436.30" width="1.8" height="1.8" fill="#000"/>
<rect x="627.35" y="436.30" width="1.8" height="1.8" fill="#000"/>
<rect x="632.87" y="436.30" width="1.8" height="1.8" fill="#000"/>
<rect x="638.39" y="436.30" width="1.8" height="1.8" fill="#000"/>
<rect x="643.91" y="436.30" width="1.8" height="1.8" fill="#000"/>
<rect x="649.43" y="436.30" width="1.8" height="1.8" fill="#000"/>
<rect x="654.94" y="436.30" width="1.8" height="1.8" fill="#000"/>
<rect x="660.46" y="436.30" width="1.8" height="1.8" fill="#000"/>
<rect x="665.98" y="436.30" width="1.8" height="1.8" fill="#000"/>
<rect x="671.50" y="436.30" width="1.8" height="1.8" fill="#000"/>
<circle cx="432.00" cy="506.00" r="2.80" fill="#808080"/>
<circle cx="437.50" cy="506.00" r="2.80" fill="#808080"/>
<circle cx="443.40" cy="506.00" r="2.80" fill="#808080"/>
<circle cx="451.40" cy="506.00" r="2.80" fill="#808080"/>
<circle cx="462.80" cy="506.00" r="2.80" fill="#808080"/>
<circle cx="466.40" cy="506.00" r="2.80" fill="#808080"/>
<circle cx="478.60" cy="506.00" r="2.80" fill="#808080"/>
<circle cx="481.70" cy="506.00" r="2.80" fill="#808080"/>
<circle cx="484.80" cy="506.00" r="2.80" fill="#808080"/>
<circle cx="489.90" cy="506.00" r="2.80" fill="#808080"/>
<circle cx="522.20" cy="506.00" r="2.80" fill="#808080"/>
<circle cx="438.80" cy="494.53" r="2.80" fill="#808080"/>
<circle cx="466.70" cy="494.53" r="2.80" fill="#808080"/>
<circle cx="509.40" cy="494.53" r="2.80" fill="#808080"/>
<circle cx="511.20" cy="494.53" r="2.80" fill="#808080"/>
<circle cx="507.80" cy="483.06" r="2.80" fill="#808080"/>
<circle cx="515.80" cy="483.06" r="2.80" fill="#808080"/>
<circle cx="574.60" cy="483.06" r="2.80" fill="#808080"/>
<circle cx="516.40" cy="471.59" r="2.80" fill="#808080"/>
<circle cx="528.20" cy="471.59" r="2.80" fill="#808080"/>
<circle cx="535.20" cy="471.59" r="2.80" fill="#808080"/>
<circle cx="530.30" cy="460.12" r="2.80" fill="#808080"/>
<circle cx="542.30" cy="460.12" r="2.80" fill="#808080"/>
<circle cx="550.50" cy="460.12" r="2.80" fill="#808080"/>
<circle cx="508.60" cy="448.65" r="2.80" fill="#808080"/>
<circle cx="541.50" cy="448.65" r="2.80" fill="#808080"/>
<circle cx="564.30" cy="448.65" r="2.80" fill="#808080"/>
<circle cx="570.40" cy="448.65" r="2.80" fill="#808080"/>
<circle cx="513.10" cy="437.18" r="2.80" fill="#808080"/>
<circle cx="530.60" cy="437.18" r="2.80" fill="#808080"/>
<circle cx="546.30" cy="437.18" r="2.80" fill="#808080"/>
<circle cx="558.40" cy="437.18" r="2.80" fill="#808080"/>
<circle cx="586.10" cy="437.18" r="2.80" fill="#808080"/>
<circle cx="627.90" cy="437.18" r="2.80" fill="#808080"/>
<circle cx="538.50" cy="425.71" r="2.80" fill="#808080"/>
<circle cx="547.10" cy="425.71" r="2.80" fill="#808080"/>
<circle cx="578.50" cy="425.71" r="2.80" fill="#808080"/>
<circle cx="582.50" cy="425.71" r="2.80" fill="#808080"/>
<circle cx="590.70" cy="425.71" r="2.80" fill="#808080"/>
<circle cx="604.00" cy="425.71" r="2.80" fill="#808080"/>
<circle cx="608.50" cy="425.71" r="2.80" fill="#808080"/>
<circle cx="536.30" cy="414.24" r="2.80" fill="#808080"/>
<circle cx="556.50" cy="414.24" r="2.80" fill="#808080"/>
<circle cx="571.70" cy="414.24" r="2.80" fill="#808080"/>
<circle cx="612.60" cy="414.24" r="2.80" fill="#808080"/>
<circle cx="622.30" cy="414.24" r="2.80" fill="#808080"/>
<circle cx="575.20" cy="402.77" r="2.80" fill="#808080"/>
<circle cx="590.20" cy="402.77" r="2.80" fill="#808080"/>
<circle cx="614.20" cy="402.77" r="2.80" fill="#808080"/>
<circle cx="624.30" cy="402.77" r="2.80" fill="#808080"/>
<circle cx="626.50" cy="402.77" r="2.80" fill="#808080"/>
<circle cx="610.50" cy="391.30" r="2.80" fill="#808080"/>
<circle cx="613.10" cy="391.30" r="2.80" fill="#808080"/>
<circle cx="622.90" cy="391.30" r="2.80" fill="#808080"/>
<circle cx="636.00" cy="391.30" r="2.80" fill="#808080"/>
<circle cx="643.20" cy="391.30" r="2.80" fill="#808080"/>
<circle cx="651.20" cy="391.30" r="2.80" fill="#808080"/>
<circle cx="654.80" cy="391.30" r="2.80" fill="#808080"/>
<circle cx="668.60" cy="391.30" r="2.80" fill="#808080"/>
<circle cx="570.00" cy="379.83" r="2.80" fill="#808080"/>
<circle cx="596.00" cy="379.83" r="2.80" fill="#808080"/>
<circle cx="614.80" cy="379.83" r="2.80" fill="#808080"/>
<circle cx="632.10" cy="368.36" r="2.80" fill="#808080"/>
<circle cx="643.60" cy="368.36" r="2.80" fill="#808080"/>
<circle cx="639.00" cy="356.89" r="2.80" fill="#808080"/>
<circle cx="641.00" cy="356.89" r="2.80" fill="#808080"/>
<circle cx="587.50" cy="345.42" r="2.80" fill="#808080"/>
<circle cx="640.80" cy="345.42" r="2.80" fill="#808080"/>
<text x="0.00" y="0.00" font-size="9.6" text-anchor="middle" font-weight="bold" textLength="212.4" lengthAdjust="spacingAndGlyphs" transform="translate(394.9,416.2) rotate(-90)">Neutralizing Ab  to 2.3.4.4b A(H5N1) AW/2021</text>
<text x="551.20" y="542.20" font-size="9.8" text-anchor="middle" font-weight="bold" textLength="132" lengthAdjust="spacingAndGlyphs">MFI against H5.AW/2021 GH</text>
</svg>
</body></html>
